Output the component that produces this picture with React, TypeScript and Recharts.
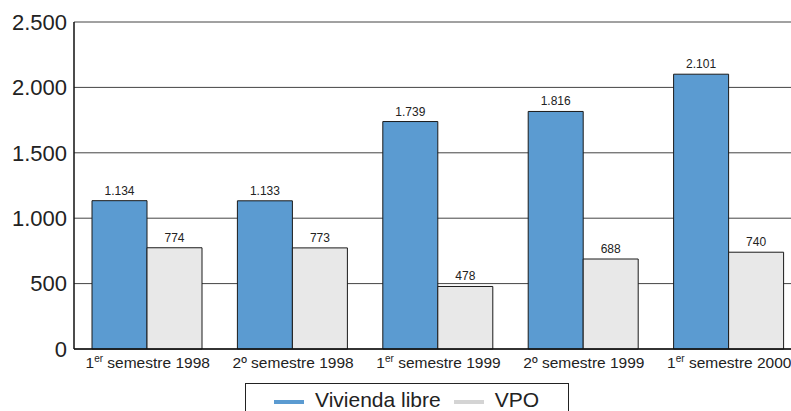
import React from "react"
import { BarChart, Bar, XAxis, YAxis, CartesianGrid, LabelList } from "recharts"

const periods = [
    "1|er| semestre 1998",
    "2º| |semestre 1998",
    "1|er| semestre 1999",
    "2º| |semestre 1999",
    "1|er| semestre 2000",
]
const libre = [1134, 1133, 1739, 1816, 2101]
const vpo = [774, 773, 478, 688, 740]
const yTicks = [0, 500, 1000, 1500, 2000, 2500]

const BLUE = "#5b9bd1"
const GREY = "#e8e8e8"
const FONT = "'Liberation Sans', Arial, Helvetica, sans-serif"

const data = periods.map((p, i) => ({ period: p, libre: libre[i], vpo: vpo[i] }))

const fmt = (v: number) => v.toLocaleString("de-DE")

const PeriodTick = (props: any) => {
    const { x, y, payload } = props
    const [num, sup, rest] = String(payload.value).split("|")
    const hasSup = sup.trim() !== ""
    return (
        <text x={x + 1} y={y + 11} textAnchor="middle" fontSize={15.5} fill="#222" fontFamily={FONT}>
            <tspan>{num}</tspan>
            {hasSup ? <tspan fontSize={10} dy={-6}>{sup}</tspan> : null}
            <tspan dy={hasSup ? 6 : 0}>{hasSup ? rest : " " + rest}</tspan>
        </text>
    )
}

export default function App() {
    return (
        <div style={{ position: "absolute", left: 0, top: 0, width: 791, height: 411, overflow: "hidden", background: "#fff", fontFamily: FONT }}>
            <BarChart
                width={810}
                height={411}
                data={data}
                margin={{ top: 22, right: 9, left: 0, bottom: 38 }}
                barGap={0}
                barSize={55}
            >
                <CartesianGrid vertical={false} stroke="#444" strokeWidth={1} />
                <XAxis
                    dataKey="period"
                    height={24}
                    axisLine={{ stroke: "#111", strokeWidth: 1.5 }}
                    tickLine={false}
                    tick={<PeriodTick />}
                    interval={0}
                />
                <YAxis
                    width={74}
                    domain={[0, 2500]}
                    ticks={yTicks}
                    tickFormatter={fmt}
                    axisLine={{ stroke: "#111", strokeWidth: 1.5 }}
                    tickLine={false}
                    tick={{ fontSize: 22, fill: "#222", fontFamily: FONT }}
                    tickMargin={1}
                />
                <Bar dataKey="libre" fill={BLUE} stroke="#1a1a1a" strokeWidth={1} isAnimationActive={false}>
                    <LabelList dataKey="libre" position="top" offset={6} formatter={(v: any) => fmt(Number(v))} style={{ fontSize: 12, fill: "#222", fontFamily: FONT }} />
                </Bar>
                <Bar dataKey="vpo" fill={GREY} stroke="#1a1a1a" strokeWidth={1} isAnimationActive={false}>
                    <LabelList dataKey="vpo" position="top" offset={6} formatter={(v: any) => fmt(Number(v))} style={{ fontSize: 12, fill: "#222", fontFamily: FONT }} />
                </Bar>
            </BarChart>
            <div
                style={{
                    position: "absolute",
                    left: 245,
                    top: 383,
                    width: 324,
                    height: 40,
                    border: "1px solid #222",
                    display: "flex",
                    alignItems: "flex-start",
                    paddingTop: 4,
                    boxSizing: "border-box",
                    fontSize: 21,
                    color: "#222",
                }}
            >
                <span style={{ display: "inline-block", width: 30, height: 4, background: BLUE, marginLeft: 28, marginTop: 12 }} />
                <span style={{ marginLeft: 11 }}>Vivienda libre</span>
                <span style={{ display: "inline-block", width: 30, height: 4, background: "#d4d4d4", marginLeft: 13, marginTop: 12 }} />
                <span style={{ marginLeft: 11 }}>VPO</span>
            </div>
        </div>
    )
}
